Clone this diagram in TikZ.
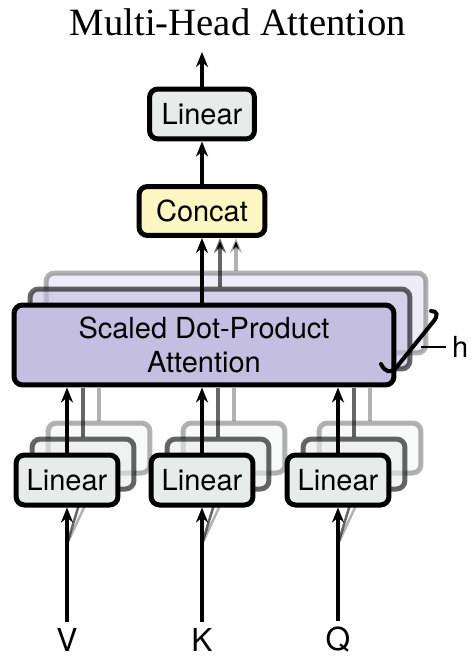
\documentclass[tikz,border=0pt]{standalone}
\usepackage{fontspec}
\setmainfont{Liberation Serif}
\setsansfont{TeX Gyre Heros}
\usetikzlibrary{positioning,calc,arrows.meta}
\definecolor{linfill}{RGB}{231,236,234}
\definecolor{catfill}{RGB}{252,246,194}
\definecolor{attfill}{RGB}{196,190,224}

\begin{document}
\begin{tikzpicture}[x=0.02cm,y=-0.02cm,
    blk/.style={rectangle,rounded corners=0.17cm,draw,line width=0.1cm,inner sep=0pt,align=center,
        font=\sffamily\fontsize{16.5}{19.5}\selectfont},
    lin/.style={blk,fill=linfill,minimum width=2.04cm,minimum height=1cm},
    att/.style={blk,fill=attfill,minimum width=7.6cm,minimum height=1.6cm},
    ghost/.style={draw opacity=#1,fill opacity=#1},
    ptr/.style={-{Stealth[length=0.3cm,width=0.24cm]},line width=0.07cm},
    lbl/.style={font=\sffamily\fontsize{18}{20}\selectfont}]
\useasboundingbox (0,0) rectangle (476,663);

% Title
\node[font=\fontsize{22}{26}\selectfont] (title) at (238,22) {Multi-Head Attention};

% Attention heads behind
\foreach \k/\op in {2/0.3,1/0.6}
  \node[att,ghost=\op] (sdpa\k) at ($(204,345)+(16*\k,-16*\k)$) {};

% Concat
\node[blk,fill=catfill,minimum width=2.52cm,minimum height=0.98cm] (cat) at (202,211) {Concat};
\draw[ptr,draw opacity=0.6] (sdpa1.north) -- (sdpa1.north |- cat.south);
\draw[ptr,draw opacity=0.3] (sdpa2.north) -- (sdpa2.north |- cat.south);

% Input projections
\foreach \n/\x/\t in {v/67/V,k/202/K,q/338/Q}{
  \node[lbl] (\n) at (\x,640) {\t};
  \coordinate (\n s) at (\x,544);
  \foreach \k/\op in {2/0.3,1/0.6}{
    \node[lin,ghost=\op] (l\n\k) at ($(\x,480)+(16*\k,-16*\k)$) {};
    \draw[line width=0.07cm,draw opacity=\op] (l\n\k.north) -- (l\n\k.north |- 0,388);
    \draw[line width=0.05cm,draw opacity=\op] (\n s) -- (l\n\k.south);
  }
}

% Front head
\node[att] (sdpa) at (204,345) {Scaled Dot-Product\\Attention};
\node[lin] (lv) at (67,480) {Linear};
\node[lin] (lk) at (202,480) {Linear};
\node[lin] (lq) at (338,480) {Linear};

% Output
\node[blk,fill=linfill,minimum width=2.1cm,minimum height=1cm] (out) at (202,114) {Linear};
\coordinate (top) at (202,52);

% Arrows
\foreach \n in {v,k,q}{
  \draw[ptr] (\n) -- (l\n);
  \draw[ptr] (l\n) -- (l\n.north |- sdpa.south);
}
\draw[ptr] (cat.south |- sdpa.north) -- (cat);
\draw[ptr] (cat) -- (out);
\draw[ptr] (out) -- (top);

% h brace
\draw[line width=0.08cm,line cap=round] (381,364) .. controls (385,372) and (390,373) .. (395,369)
  -- (433,322) .. controls (439,315) and (437,311) .. (431,311);
\node[lbl,font=\sffamily\fontsize{16.5}{19}\selectfont,anchor=west] (h) at (446,347) {h};
\coordinate (hk) at (421,347);
\draw[line width=0.05cm] (hk) -- (h);

\end{tikzpicture}
\end{document}
